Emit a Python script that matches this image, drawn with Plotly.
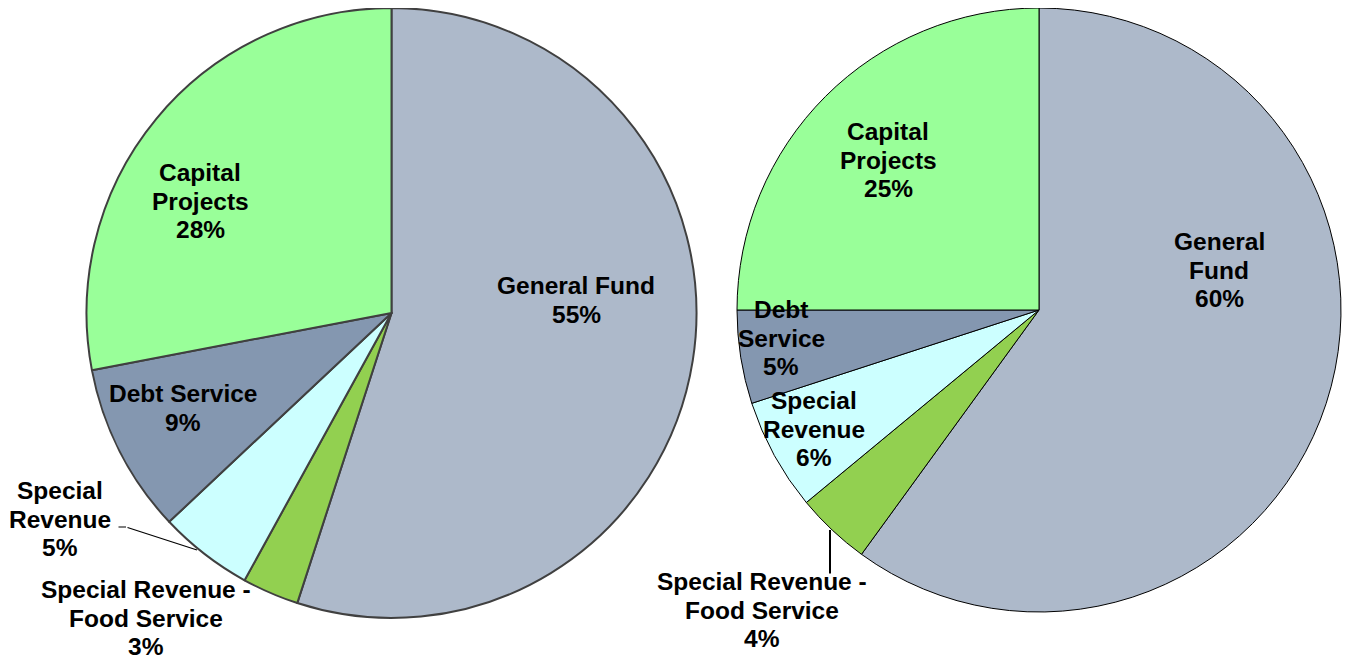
import plotly.graph_objects as go

# fund categories, in clockwise order from 12 o'clock
funds = ["General Fund", "Special Revenue - Food Service", "Special Revenue",
         "Debt Service", "Capital Projects"]
colors = ["#adb9ca", "#92d050", "#ccffff", "#8497b0", "#99ff99"]

# left pie
left_values = [55, 3, 5, 9, 28]
left_text = ["General Fund", "Special Revenue -<br>Food Service", "Special<br>Revenue",
             "Debt Service", "Capital<br>Projects"]

# right pie
right_values = [60, 4, 6, 5, 25]
right_text = ["General<br>Fund", "Special Revenue -<br>Food Service", "Special<br>Revenue",
              "Debt<br>Service", "Capital<br>Projects"]

# page has an 8px body margin, so the figure sits at (8, 8)
OFF = 8
W, H = 1352 - OFF, 661 - OFF
FONT = dict(family="Liberation Sans, Arial, sans-serif", size=24.5, color="black", weight="bold")
LINE = 28.7  # label line spacing in px


def px(x):
    return (x - OFF) / W


def py(y):
    return 1 - (y - OFF) / H


# label centres in page pixels (layout only)
left_xy = [(576, 300), (146, 618), (60, 519), (183, 408), (200, 201)]
right_xy = [(1219, 270), (762, 610), (814, 429), (781, 338), (888, 160)]

fig = go.Figure()
fig.add_trace(go.Pie(
    labels=funds, values=left_values,
    textinfo="none", sort=False, direction="clockwise", rotation=0,
    marker=dict(colors=colors, line=dict(color="#404040", width=2)),
    showlegend=False, hoverinfo="label+percent",
    domain=dict(x=[px(86.5), px(696.5)], y=[py(618), py(8)]),
))
fig.add_trace(go.Pie(
    labels=funds, values=right_values,
    textinfo="none", sort=False, direction="clockwise", rotation=0,
    marker=dict(colors=colors, line=dict(color="black", width=1)),
    showlegend=False, hoverinfo="label+percent",
    domain=dict(x=[px(737), px(1341)], y=[py(612), py(8)]),
))


def add_labels(texts, values, xy):
    total = sum(values)
    for t, v, (lx, ly) in zip(texts, values, xy):
        lines = t.split("<br>") + [f"{round(100 * v / total)}%"]
        n = len(lines)
        # one annotation per line to get the tighter line spacing
        for i, line in enumerate(lines):
            fig.add_annotation(
                x=px(lx), y=py(ly + (i - (n - 1) / 2) * LINE),
                xref="paper", yref="paper", text=line,
                showarrow=False, font=FONT, xanchor="center", yanchor="middle",
            )


add_labels(left_text, left_values, left_xy)
add_labels(right_text, right_values, right_xy)

# leader lines for the small outside labels: head, tail, width
leaders = [((197, 550), (126, 527), 1.2), ((830, 530), (830, 575), 2)]
for (hx, hy), (tx, ty), lw in leaders:
    fig.add_annotation(
        x=px(hx), y=py(hy), xref="paper", yref="paper", text="",
        showarrow=True, arrowhead=0, arrowwidth=lw, arrowcolor="black",
        axref="pixel", ayref="pixel", ax=tx - hx, ay=ty - hy,
    )
# short horizontal tail of the left leader
fig.add_annotation(
    x=px(126), y=py(527), xref="paper", yref="paper", text="",
    showarrow=True, arrowhead=0, arrowwidth=1.2, arrowcolor="black",
    axref="pixel", ayref="pixel", ax=-9, ay=0,
)

fig.update_layout(
    width=W, height=H,
    margin=dict(l=0, r=0, t=0, b=0),
    paper_bgcolor="white", plot_bgcolor="white",
    font=FONT,
)

fig.write_html("out.html")
